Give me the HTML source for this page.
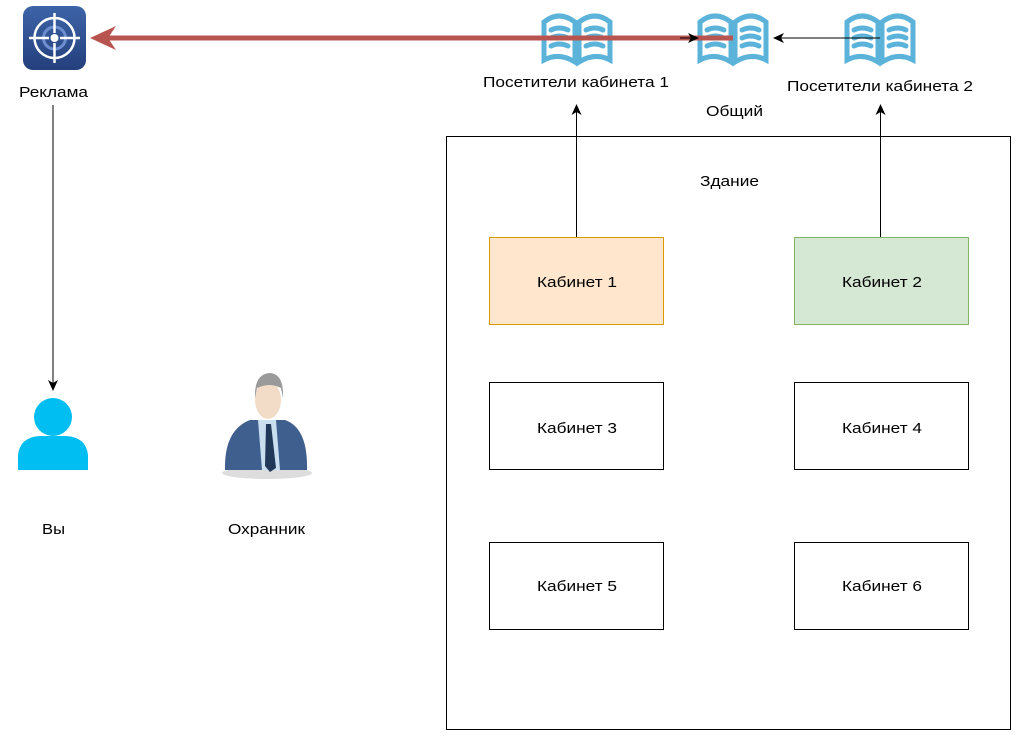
<!DOCTYPE html>
<html><head><meta charset="utf-8"><style>body{margin:0;background:#fff}svg{display:block}text{font-family:"Liberation Sans",sans-serif;font-size:15px;fill:#000}</style></head><body>
<svg width="1032" height="747" viewBox="0 0 1032 747" xmlns="http://www.w3.org/2000/svg">
<defs>
<linearGradient id="bg" x1="0" y1="0" x2="0" y2="1"><stop offset="0" stop-color="#3d64a8"/><stop offset="1" stop-color="#243f7c"/></linearGradient>
<g id="book" fill="none" stroke="#5bb3d9" stroke-width="5" stroke-linecap="round">
<path d="M-33,22 L-33,-16 Q-18,-28 -2,-16 L-2,24 Q-18,14 -33,22 Z"/>
<path d="M33,22 L33,-16 Q18,-28 2,-16 L2,24 Q18,14 33,22 Z"/>
<path d="M-26,-8 Q-18,-12 -9,-8 M-26,0 Q-18,-4 -9,0 M-26,8 Q-18,4 -9,8 M26,-8 Q18,-12 9,-8 M26,0 Q18,-4 9,0 M26,8 Q18,4 9,8"/>
</g>
</defs>
<rect x="23" y="6" width="63" height="64" rx="10" fill="url(#bg)"/>
<g stroke="#fff" fill="none" stroke-width="2.5"><circle cx="54.5" cy="38" r="20"/><circle cx="54.5" cy="38" r="11" stroke="#6e8fcf" stroke-width="3"/><path d="M54.5,13 V33 M54.5,43 V63 M29,38 H49 M60,38 H80"/></g>
<circle cx="54.5" cy="38" r="4" fill="#fff"/>
<g lengthAdjust="spacingAndGlyphs">
<text x="19" y="97" textLength="69" lengthAdjust="spacingAndGlyphs">Реклама</text>
<use href="#book" x="577" y="38"/>
<use href="#book" x="733" y="38"/>
<use href="#book" x="880" y="38"/>
<line x1="733" y1="38" x2="108" y2="38" stroke="#b85450" stroke-width="5"/>
<polygon points="90,38 116,26 108,38 116,50" fill="#b85450"/>
<line x1="680" y1="38" x2="695" y2="38" stroke="#000"/>
<polygon points="699,38 688,33 691,38 688,43" fill="#000"/>
<line x1="880" y1="38" x2="780" y2="38" stroke="#000"/>
<polygon points="773,38 784,33 781,38 784,43" fill="#000"/>
<text x="483" y="87" textLength="186" lengthAdjust="spacingAndGlyphs">Посетители кабинета 1</text>
<text x="787" y="91" textLength="186" lengthAdjust="spacingAndGlyphs">Посетители кабинета 2</text>
<text x="706" y="116" textLength="57" lengthAdjust="spacingAndGlyphs">Общий</text>
<line x1="53" y1="105" x2="53" y2="383" stroke="#000"/>
<polygon points="53,391 48,380 53,383 58,380" fill="#000"/>
<circle cx="53" cy="417" r="19" fill="#00bef2"/>
<path d="M18,470 L18,455 Q20,437 40,436 L66,436 Q86,437 88,455 L88,470 Z" fill="#00bef2"/>
<text x="42" y="534" textLength="23" lengthAdjust="spacingAndGlyphs">Вы</text>
<ellipse cx="267" cy="473" rx="45" ry="6" fill="#ddd"/>
<path d="M225,470 Q224,430 250,420 L285,420 Q308,428 307,470 Z" fill="#3f5f8e"/>
<path d="M258,420 L276,420 L280,470 L262,470 Z" fill="#c9dff0"/>
<path d="M266,424 L271,424 L276,468 L270,472 L265,466 Z" fill="#223859"/>
<ellipse cx="268" cy="400" rx="13" ry="19" fill="#f2dcc8"/>
<path d="M255,398 Q254,374 270,373 Q284,374 283,398 L281,388 Q270,382 257,388 Z" fill="#9a9a9a"/>
<text x="228" y="534" textLength="77" lengthAdjust="spacingAndGlyphs">Охранник</text>
<rect x="446.5" y="136.5" width="564" height="593" fill="none" stroke="#000"/>
<text x="700" y="186" textLength="59" lengthAdjust="spacingAndGlyphs">Здание</text>
<rect x="489.5" y="237.5" width="174" height="87" fill="#ffe6cc" stroke="#d79b00"/>
<rect x="794.5" y="237.5" width="174" height="87" fill="#d5e8d4" stroke="#82b366"/>
<rect x="489.5" y="382.5" width="174" height="87" fill="#fff" stroke="#000"/>
<rect x="794.5" y="382.5" width="174" height="87" fill="#fff" stroke="#000"/>
<rect x="489.5" y="542.5" width="174" height="87" fill="#fff" stroke="#000"/>
<rect x="794.5" y="542.5" width="174" height="87" fill="#fff" stroke="#000"/>
<text x="537" y="287" textLength="80" lengthAdjust="spacingAndGlyphs">Кабинет 1</text>
<text x="842" y="287" textLength="80" lengthAdjust="spacingAndGlyphs">Кабинет 2</text>
<text x="537" y="433" textLength="80" lengthAdjust="spacingAndGlyphs">Кабинет 3</text>
<text x="842" y="433" textLength="80" lengthAdjust="spacingAndGlyphs">Кабинет 4</text>
<text x="537" y="591" textLength="80" lengthAdjust="spacingAndGlyphs">Кабинет 5</text>
<text x="842" y="591" textLength="80" lengthAdjust="spacingAndGlyphs">Кабинет 6</text>
</g>
<line x1="576.5" y1="237" x2="576.5" y2="112" stroke="#000"/>
<polygon points="576.5,104 571.5,115 576.5,112 581.5,115" fill="#000"/>
<line x1="880.5" y1="237" x2="880.5" y2="112" stroke="#000"/>
<polygon points="880.5,104 875.5,115 880.5,112 885.5,115" fill="#000"/>
</svg>
</body></html>
